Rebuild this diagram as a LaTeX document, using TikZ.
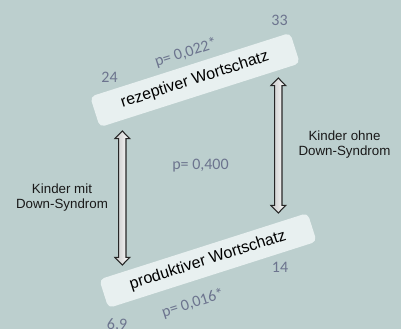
\documentclass[tikz,border=0pt]{standalone}
\usepackage{fontspec}
\setmainfont{Liberation Sans}
\newfontfamily\calfont{Carlito}
\usetikzlibrary{calc}
\definecolor{bg}{RGB}{188,207,206}
\definecolor{boxfill}{RGB}{232,240,240}
\definecolor{numgray}{RGB}{108,116,142}
\newcommand\dblarr[2]{%
  \draw[arrsty] (#1) -- ($(#1)+(7.5,7.7)$) -- ($(#1)+(3.7,7.7)$) -- ($(#2)+(3.7,-7.7)$) -- ($(#2)+(7.5,-7.7)$) -- (#2) -- ($(#2)+(-7.5,-7.7)$) -- ($(#2)+(-3.7,-7.7)$) -- ($(#1)+(-3.7,7.7)$) -- ($(#1)+(-7.5,7.7)$) -- cycle;}
\begin{document}
\begin{tikzpicture}[x=0.75pt,y=-0.75pt,
  wbox/.style={fill=boxfill, rounded corners=3.75pt, inner sep=0pt, font=\fontsize{12pt}{14pt}\selectfont},
  num/.style={text=numgray, font=\calfont\fontsize{12pt}{14pt}\selectfont, inner sep=0pt},
  lbl/.style={align=center, font=\fontsize{10pt}{11.25pt}\selectfont, inner sep=0pt, text=black!90},
  arrsty/.style={draw=black!85, line width=0.8pt, left color=gray!45, right color=white, line join=miter}]
\useasboundingbox (0,0) rectangle (401,329);
\fill[bg] (0,0) rectangle (401,329);
% boxes
\node[wbox, minimum width=157.5pt, minimum height=24pt, rotate=17.7] (rez) at (195,80) {rezeptiver Wortschatz};
\node[wbox, minimum width=164pt, minimum height=22.5pt, rotate=17.7] (prod) at (208,260.5) {produktiver Wortschatz};
% arrows
\coordinate (la1) at (122.3,131);
\coordinate (la2) at (122.3,265);
\coordinate (ra1) at (278.3,78);
\coordinate (ra2) at (278.3,213);
\dblarr{la1}{la2}
\dblarr{ra1}{ra2}
% labels
\node[num] (n33) at (279.5,20.5) {33};
\node[num] (n24) at (109.5,77.5) {24};
\node[num, rotate=17.7] (p1) at (186,53) {p= 0,022*};
\node[num] (p2) at (200.5,166) {p= 0,400};
\node[num] (n14) at (280,267) {14};
\node[num, rotate=17.7] (p3) at (193,303.5) {p= 0,016*};
\node[num] (n69) at (117,325) {6,9};
\node[lbl] (kmit) at (62,198) {Kinder mit\\Down-Syndrom};
\node[lbl] (kohne) at (344.5,145) {Kinder ohne\\Down-Syndrom};
\end{tikzpicture}
\end{document}
